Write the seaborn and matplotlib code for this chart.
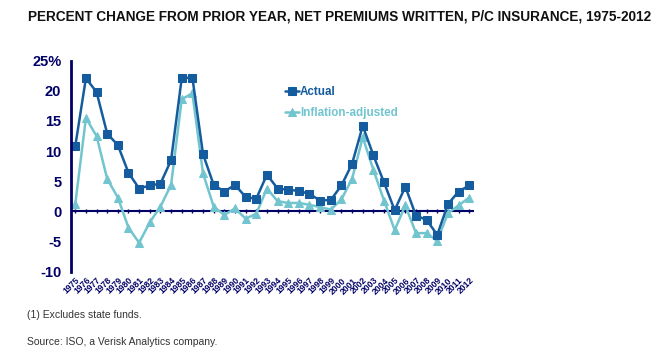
import matplotlib
matplotlib.use('Agg')
import matplotlib.pyplot as plt
import seaborn as sns
import pandas as pd

# Data
years = list(range(1975, 2013))
actual = [10.8, 22.1, 19.8, 12.9, 11.0, 6.4, 3.8, 4.3, 4.6, 8.5,
          22.1, 22.2, 9.5, 4.4, 3.3, 4.4, 2.4, 2.1, 6.1, 3.8,
          3.6, 3.4, 2.9, 1.8, 1.9, 4.3, 7.9, 14.2, 9.3, 4.8,
          0.2, 4.1, -0.7, -1.4, -3.9, 1.2, 3.3, 4.3]
inflation_adj = [1.2, 15.5, 12.5, 5.4, 2.3, -2.7, -5.2, -1.8, 0.8, 4.4,
                 18.6, 19.6, 6.3, 0.8, -0.6, 0.5, -1.2, -0.4, 3.8, 1.7,
                 1.4, 1.4, 1.1, 0.7, 0.3, 2.0, 5.4, 12.3, 6.9, 1.8,
                 -3.1, 1.0, -3.6, -3.6, -4.9, -0.3, 1.0, 2.3]
y_ticks = [-10, -5, 0, 5, 10, 15, 20, 25]
y_tick_labels = ['-10', '-5', '0', '5', '10', '15', '20', '25%']

title = 'PERCENT CHANGE FROM PRIOR YEAR, NET PREMIUMS WRITTEN, P/C INSURANCE, 1975-2012'
footnote = '(1) Excludes state funds.'
source = 'Source: ISO, a Verisk Analytics company.'

navy = '#000066'
dark_blue = '#155c9e'
cyan = '#72c5cf'

sns.set_style('white')
plt.rcParams['font.family'] = ['Liberation Sans', 'DejaVu Sans']

df = pd.DataFrame({'year': years, 'Actual': actual, 'Inflation-adjusted': inflation_adj})

fig = plt.figure(figsize=(6.71, 3.57), dpi=100)
ax = fig.add_axes([71 / 671, 85.3 / 357, 403 / 671, 211 / 357])

sns.lineplot(data=df, x='year', y='Inflation-adjusted', ax=ax, color=cyan, lw=1.8,
             marker='^', markersize=5.5, markeredgecolor=cyan, label='Inflation-adjusted')
sns.lineplot(data=df, x='year', y='Actual', ax=ax, color=dark_blue, lw=1.8,
             marker='s', markersize=5.5, markeredgecolor=dark_blue, label='Actual')

ax.set_xlim(1974.6, 2012.45)
ax.set_ylim(-10, 25)
ax.axhline(0, color=navy, lw=1.5, zorder=1)

# y axis
for s in ['top', 'right', 'bottom']:
    ax.spines[s].set_visible(False)
ax.spines['left'].set_color(navy)
ax.spines['left'].set_linewidth(2)
ax.set_yticks(y_ticks)
ax.set_yticklabels(y_tick_labels)
ax.tick_params(axis='y', direction='in', length=4, width=1.5, color=navy,
               labelcolor=navy, labelsize=10.5, pad=7)
for lbl in ax.get_yticklabels():
    lbl.set_fontweight('bold')

# x labels at bottom, tick marks along the zero line
ax.set_xticks(years)
ax.set_xticklabels([str(y) for y in years], rotation=45, ha='right',
                   rotation_mode='anchor', fontsize=6.2, fontweight='bold', color=navy)
ax.tick_params(axis='x', length=0, pad=3)
sec = ax.secondary_xaxis(10 / 35)
sec.set_xticks(years)
sec.set_xticklabels([])
sec.tick_params(axis='x', direction='inout', length=3, width=1, color=navy)
sec.spines['bottom'].set_visible(False)
sec.spines['top'].set_visible(False)

ax.set_xlabel('')
ax.set_ylabel('')
ax.grid(False)

handles, labels = ax.get_legend_handles_labels()
leg = ax.legend(handles[::-1], labels[::-1], loc='upper left', bbox_to_anchor=(0.505, 0.93),
                frameon=False, handlelength=1.2, handletextpad=0.1, labelspacing=0.8,
                prop={'weight': 'bold', 'size': 8.4})
for txt, c in zip(leg.get_texts(), [dark_blue, cyan]):
    txt.set_color(c)

fig.text(0.042, 0.955, title, fontsize=9.85, fontweight='bold', color='#111111', va='center')
fig.text(0.04, 0.118, footnote, fontsize=7.5, color='#333333', va='center')
fig.text(0.04, 0.042, source, fontsize=7.5, color='#333333', va='center')

plt.savefig('out.png', dpi=100)
plt.close()
